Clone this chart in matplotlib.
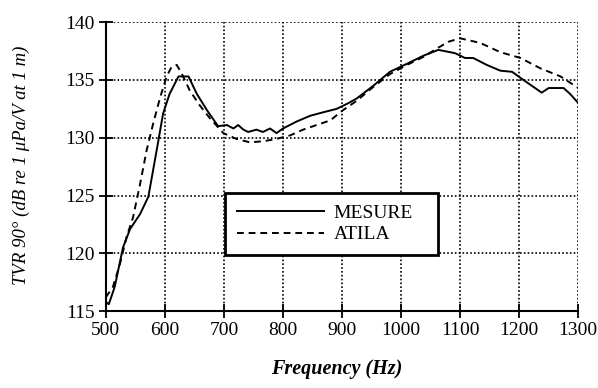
import matplotlib
matplotlib.use('Agg')
import matplotlib.pyplot as plt

# MESURE (measured) curve
freq_mes = [500, 505, 515, 529, 541, 558, 572, 586, 597, 608, 623, 640, 654, 671, 690,
            705, 716, 724, 733, 741, 755, 766, 778, 789, 800, 823, 846, 868, 891, 911,
            925, 953, 981, 1010, 1038, 1063, 1083, 1092, 1108, 1122, 1145, 1168, 1188,
            1207, 1224, 1238, 1250, 1275, 1286, 1300]
tvr_mes = [115.8, 115.6, 117.1, 120.5, 122.1, 123.4, 124.9, 128.9, 132.1, 133.8, 135.3,
           135.3, 133.8, 132.4, 131.0, 131.1, 130.8, 131.1, 130.7, 130.5, 130.7, 130.5,
           130.8, 130.4, 130.8, 131.4, 131.9, 132.2, 132.5, 133.0, 133.4, 134.5, 135.7,
           136.4, 137.1, 137.6, 137.4, 137.3, 136.9, 136.9, 136.3, 135.8, 135.7, 135.0,
           134.4, 133.9, 134.3, 134.3, 133.8, 133.0]

# ATILA (computed) curve
freq_atila = [500, 512, 524, 535, 546, 558, 569, 580, 592, 603, 611, 620, 628, 642, 659,
              676, 699, 721, 744, 767, 789, 812, 834, 857, 880, 902, 925, 953, 981, 1010,
              1038, 1060, 1080, 1100, 1134, 1168, 1202, 1236, 1270, 1300]
tvr_atila = [116.2, 117.1, 119.1, 121.4, 123.1, 126.0, 128.9, 131.2, 133.5, 135.3, 136.1,
             136.3, 135.6, 134.1, 132.8, 131.7, 130.4, 129.9, 129.6, 129.7, 129.9, 130.2,
             130.7, 131.1, 131.5, 132.4, 133.2, 134.4, 135.5, 136.3, 137.0, 137.7, 138.3,
             138.6, 138.2, 137.4, 136.9, 136.0, 135.3, 134.3]

xticks = [500, 600, 700, 800, 900, 1000, 1100, 1200, 1300]
yticks = [115, 120, 125, 130, 135, 140]

plt.rcParams['font.family'] = ['Liberation Serif', 'DejaVu Serif']

fig = plt.figure(figsize=(5.98, 3.88), dpi=100)
ax = fig.add_axes([0.177, 0.198, 0.790, 0.745])

ax.plot(freq_mes, tvr_mes, color='black', lw=1.4, label='MESURE')
ax.plot(freq_atila, tvr_atila, color='black', lw=1.4, dashes=(3.5, 2.5), label='ATILA')

ax.set_xlim(500, 1300)
ax.set_ylim(115, 140)
ax.set_xticks(xticks)
ax.set_yticks(yticks)
ax.grid(True, color='black', linestyle=(0, (1, 1.3)), linewidth=1.2)

for s in ['top', 'right']:
    ax.spines[s].set_visible(False)
for s in ['left', 'bottom']:
    ax.spines[s].set_linewidth(1.5)

ax.tick_params(direction='inout', length=10, width=1.3, labelsize=14, pad=3)

ax.set_xlabel('Frequency (Hz)', fontsize=14.5, style='italic', fontweight='bold')
ax.xaxis.set_label_coords(0.489, -0.165)
ax.set_ylabel('TVR 90\u00b0 (dB re 1 \u03bcPa/V at 1 m)', fontsize=13.5, style='italic')
ax.yaxis.set_label_coords(-0.16, 0.505)

leg = ax.legend(loc='lower left', bbox_to_anchor=(0.252, 0.194, 0.451, 0.218),
                mode='expand', fontsize=14, handlelength=4.5, handletextpad=0.5,
                borderpad=0.6, labelspacing=0.2, fancybox=False, framealpha=1,
                edgecolor='black', borderaxespad=0)
leg.get_frame().set_linewidth(2)

fig.savefig('out.png', dpi=100)
